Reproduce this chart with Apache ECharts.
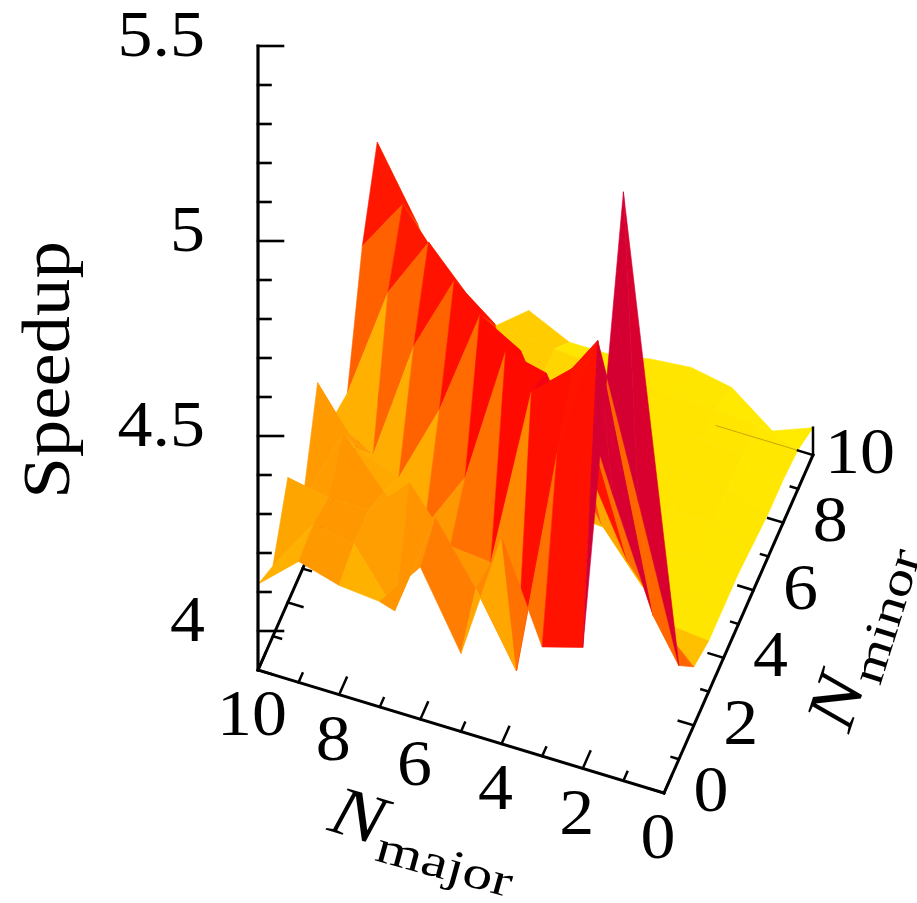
<!DOCTYPE html>
<html><head><meta charset="utf-8">
<style>html,body{margin:0;padding:0;background:#fff}#c{width:917px;height:903px}</style>
<script src="https://cdn.jsdelivr.net/npm/echarts@6/dist/echarts.min.js"></script>
</head><body><div id="c"></div>
<script>
// Speedup; outer index = N_major 0..10, inner = N_minor 0..10
const speedup0  = [4.55,4.14,4.05,4.03,4.03,4.03,4.02,4.01,4.01,4.00,3.97];
const speedup1  = [5.41,4.53,4.15,4.04,4.03,4.04,4.04,4.04,4.04,4.03,3.93];
const speedup2  = [4.21,4.91,4.43,4.17,4.02,4.03,4.04,4.05,4.05,4.04,4.01];
const speedup3  = [4.18,4.59,4.72,4.385,4.146,4.04,4.04,4.04,4.04,4.04,4.03];
const speedup4  = [4.43,4.00,4.63,4.59,4.32,4.05,4.05,4.05,4.05,4.05,4.02];
const speedup5  = [4.10,4.18,4.16,4.615,4.53,4.05,4.05,4.06,4.06,4.06,4.00];
const speedup6  = [4.29,4.33,4.17,4.26,4.59,4.48,4.10,4.08,4.07,4.07,4.00];
const speedup7  = [4.17,4.06,4.30,4.10,4.315,4.56,4.43,4.10,4.10,4.08,4.05];
const speedup8  = [4.18,4.20,4.20,4.16,4.11,4.36,4.54,4.39,4.10,4.05,3.97];
const speedup9  = [4.21,4.22,4.20,4.28,4.15,4.05,4.38,4.52,4.38,4.10,3.95];
const speedup10 = [4.12,4.08,4.22,4.07,4.29,4.11,4.09,4.38,4.56,4.30,3.95];
const speedup = [speedup0,speedup1,speedup2,speedup3,speedup4,speedup5,speedup6,speedup7,speedup8,speedup9,speedup10];
// faces that show two colours: [major, minor, diagonal (0 = far-near, 1 = side-side), far value, near value]
const twoToneFaces = [[2,1,1,4.66,4.33],[3,2,1,4.47,4.31],[3,1,0,4.66,4.47],[1,1,0,4.33,4.33]];
// faces whose colour value differs from the mean of their corners: [major, minor, value]
const faceValues = [[2,2,4.31],[2,3,4.03],[7,9,4.08],[8,9,4.08],[7,8,4.08],[8,8,4.08],[1,2,4.10],[10,4,4.20],[6,0,4.27]];
const majorTicks = [0,1,2,3,4,5,6,7,8,9,10];
const minorTicks = [0,1,2,3,4,5,6,7,8,9,10];
const speedTicks = [4,4.1,4.2,4.3,4.4,4.5,4.6,4.7,4.8,4.9,5,5.1,5.2,5.3,5.4,5.5];
const speedLabels = ['4','4.5','5','5.5'];
const majorLabels = ['0','2','4','6','8','10'];
const minorLabels = ['0','2','4','6','8','10'];

const toneStops = [[3.95,'#ffee00'],[4.03,'#ffe600'],[4.05,'#ffe300'],[4.07,'#ffd200'],[4.10,'#ffc000'],[4.17,'#ffac00'],[4.19,'#ff9e00'],[4.21,'#ff9600'],[4.27,'#ff7d00'],[4.34,'#ff6200'],[4.44,'#ff1e00'],[4.50,'#ff0a00'],[4.60,'#f20018'],[4.66,'#d80030'],[5.5,'#c00040']];
function tone(v){
  if(v<=toneStops[0][0])return toneStops[0][1];
  for(let i=1;i<toneStops.length;i++){
    if(v<=toneStops[i][0]){
      const a=toneStops[i-1],b=toneStops[i],t=(v-a[0])/(b[0]-a[0]);
      return echarts.color.lerp(t,[a[1],b[1]]);
    }
  }
  return toneStops[toneStops.length-1][1];
}
// oblique view: maps (major, minor, speedup) to the plane of the hidden value axes
const view={x0:664,y0:793,mx:-40.6,my:-12.3,nx:14.9,ny:-33.8,zBase:3.9,zs:390};
const P=(k,m,z)=>[view.x0+view.mx*k+view.nx*m, view.y0+view.my*k+view.ny*m-(z-view.zBase)*view.zs];
const S=(k,m)=>P(k,m,speedup[k][m]);

const faces=[];
for(let k=10;k>=1;k--)for(let m=9;m>=0;m--){
  const a=[k,m],b=[k-1,m],c=[k-1,m+1],d=[k,m+1];
  let mean=(speedup[k][m]+speedup[k-1][m]+speedup[k-1][m+1]+speedup[k][m+1])/4;
  const fv=faceValues.find(f=>f[0]===k&&f[1]===m); if(fv)mean=fv[2];
  const two=twoToneFaces.find(f=>f[0]===k&&f[1]===m);
  if(two){
    const tris=two[2]?[[a,c,d],[a,b,c]]:[[b,c,d],[a,b,d]];
    faces.push({pts:tris[0],v:two[3]});faces.push({pts:tris[1],v:two[4]});
  } else faces.push({pts:[a,b,c,d],v:mean});
}
const surfaceData=faces.map((f,i)=>[i]);
function polyItem(params,api){
  const f=faces[params.dataIndex];
  const pts=f.pts.map(p=>api.coord(S(p[0],p[1])));
  const col=tone(f.v);
  return {type:'polygon',shape:{points:pts},style:{fill:col,stroke:col,lineWidth:0.6,lineJoin:'round'}};
}
// axis segments
function seg(a,b,w,c){return {a,b,w,c:c||'#000'};}
const backSegs=[seg(P(10,0,3.9),P(10,10,3.9),3)];
minorTicks.forEach(m=>{const L=m%2?0.2:0.36;backSegs.push(seg(P(10,m,3.9),P(10-L,m,3.9),2.5));});
const frontSegs=[seg(P(0,0,3.9),P(10,0,3.9),3),seg(P(0,0,3.9),P(0,10,3.9),3),seg(P(0,10,3.9),P(0,10,3.97),2.5),seg(P(10,0,3.9),P(10,0,5.5),3.2),seg(P(0.37,10,3.9),P(2.4,10,3.9),1,'#c9a800')];
majorTicks.forEach(k=>{const L=k%2?0.26:0.5;frontSegs.push(seg(P(k,0,3.9),P(k,L,3.9),2.5));});
minorTicks.forEach(m=>{const L=m%2?0.18:0.37;frontSegs.push(seg(P(0,m,3.9),P(L,m,3.9),2.5));});
speedTicks.forEach((z,i)=>{const L=(Math.round(z*10)%5===0)?25:12.5;
  const p=P(10,0,z);frontSegs.push(seg(p,[p[0]+L,p[1]],2.6));});
function segItem(list){return (params,api)=>{
  const s=list[params.dataIndex],a=api.coord(s.a),b=api.coord(s.b);
  return {type:'line',shape:{x1:a[0],y1:a[1],x2:b[0],y2:b[1]},style:{stroke:s.c,lineWidth:s.w,lineCap:s.c==='#000'?'square':'butt'}};
};}
// texts
const SERIF='"Liberation Serif","DejaVu Serif",serif';
const texts=[];
speedLabels.forEach(t=>{const p=P(10,0,+t);texts.push({t,x:205,y:p[1]-7,size:66,align:'right',rot:0,sx:1.06});});
majorLabels.forEach(t=>{const p=P(+t,0,3.9);texts.push({t,x:p[0]-6,y:p[1]+48,size:66,align:'center',rot:0,sx:1.06});});
minorLabels.forEach(t=>{const p=P(0,+t,3.9);texts.push({t,x:p[0]+47,y:p[1]+1,size:66,align:'center',rot:0,sx:1.06});});
texts.push({t:'Speedup',x:51,y:370,size:68,align:'center',rot:Math.PI/2,sx:1.1});
texts.push({t:'N',x:357,y:820,size:70,align:'center',rot:-0.295,italic:true,sx:1.15});
texts.push({t:'major',x:444,y:867,size:46,align:'center',rot:-0.27,sx:1.3});
texts.push({t:'N',x:840,y:703,size:70,align:'center',rot:1.25,italic:true,sx:1.15});
texts.push({t:'minor',x:889,y:617,size:46,align:'center',rot:1.27,sx:1.26});
function textItem(params,api){
  const d=texts[params.dataIndex],c=api.coord([d.x,d.y]);
  return {type:'text',x:c[0],y:c[1],rotation:d.rot,scaleX:d.sx,
    style:{text:d.t,font:(d.italic?'italic ':'')+d.size+'px '+SERIF,fill:'#000',align:d.align,verticalAlign:'middle'}};
}
const chart=echarts.init(document.getElementById('c'),null,{renderer:'canvas'});
const hidden={show:false};
chart.setOption({
  animation:false,backgroundColor:'#fff',
  grid:{left:0,right:0,top:0,bottom:0},
  xAxis:{type:'value',min:0,max:917,axisLine:hidden,axisTick:hidden,axisLabel:hidden,splitLine:hidden},
  yAxis:{type:'value',min:0,max:903,inverse:true,axisLine:hidden,axisTick:hidden,axisLabel:hidden,splitLine:hidden},
  series:[
    {type:'custom',z:1,clip:false,silent:true,data:backSegs.map((s,i)=>[i]),renderItem:segItem(backSegs),encode:{x:0}},
    {type:'custom',z:2,clip:false,silent:true,data:surfaceData,renderItem:polyItem,encode:{x:0}},
    {type:'custom',z:3,clip:false,silent:true,data:frontSegs.map((s,i)=>[i]),renderItem:segItem(frontSegs),encode:{x:0}},
    {type:'custom',z:4,clip:false,silent:true,data:texts.map((s,i)=>[i]),renderItem:textItem,encode:{x:0}}
  ]
});
</script></body></html>
